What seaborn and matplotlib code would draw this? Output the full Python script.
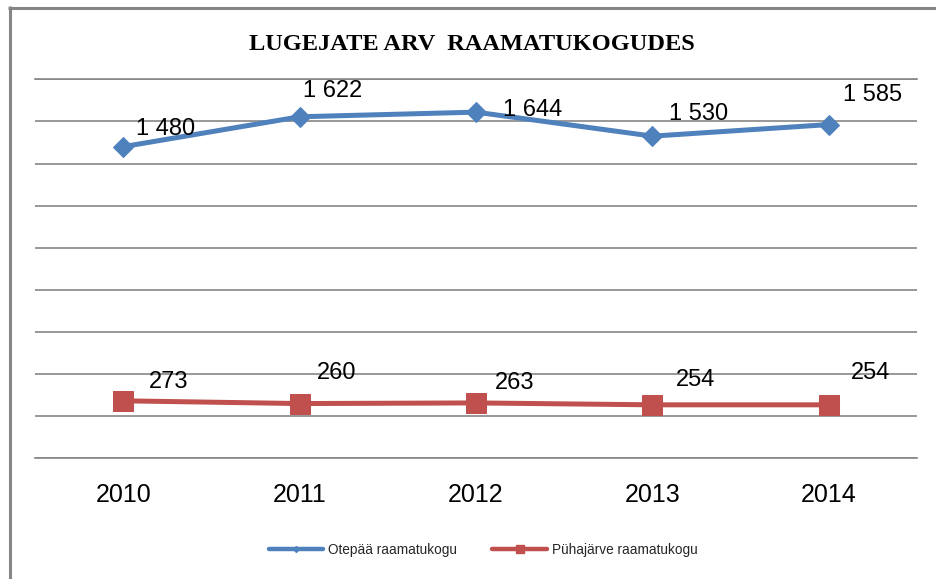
import matplotlib
matplotlib.use("Agg")
import matplotlib.pyplot as plt
import seaborn as sns
import pandas as pd
from matplotlib.lines import Line2D

# ---- data ----
years = [2010, 2011, 2012, 2013, 2014]
otepaa = [1480, 1622, 1644, 1530, 1585]
puhajarve = [273, 260, 263, 254, 254]
series_names = ["Otepää raamatukogu", "Pühajärve raamatukogu"]
title = "LUGEJATE ARV  RAAMATUKOGUDES"

# label offsets (pixels, x right / y up)
off_otepaa = [(42, 18), (33, 26), (57, 2), (46, 22), (44, 30)]
off_puha = [(45, 19), (37, 31), (39, 20), (43, 25), (42, 32)]

sns.set_theme(style="white")
plt.rcParams["font.family"] = ["Liberation Sans", "DejaVu Sans"]

BLUE = "#4F81BD"
RED = "#C0504D"
GRID = "#868686"

fig = plt.figure(figsize=(9.36, 5.79), dpi=100)
W, H = 936, 579
left, right = 35 / W, 917 / W
bottom, top = 1 - 458.3 / H, 1 - 79.3 / H
ax = fig.add_axes([left, bottom, right - left, top - bottom])

df1 = pd.DataFrame({"year": years, "value": otepaa})
df2 = pd.DataFrame({"year": years, "value": puhajarve})

sns.lineplot(data=df1, x="year", y="value", ax=ax, color=BLUE, marker="D",
             markersize=10, markeredgecolor=BLUE, linewidth=3.6,
             label=series_names[0], zorder=3)
sns.lineplot(data=df2, x="year", y="value", ax=ax, color=RED, marker="s",
             markersize=15, markeredgecolor=RED, linewidth=3.6,
             label=series_names[1], zorder=3)

ax.set_xlim(years[0] - 0.5, years[-1] + 0.5)
ax.set_ylim(0, 1800)
ax.set_yticks(range(0, 1801, 200))
ax.set_yticklabels([])
ax.set_xticks(years)
ax.set_xticklabels([str(y) for y in years], fontsize=18)
ax.tick_params(axis="x", length=0, pad=18, colors="black")
ax.tick_params(axis="y", length=0)
ax.set_xlabel("")
ax.set_ylabel("")
ax.yaxis.grid(True, color=GRID, linewidth=1.2)
ax.xaxis.grid(False)
for s in ["left", "right"]:
    ax.spines[s].set_visible(False)
for s in ["top", "bottom"]:
    ax.spines[s].set_visible(True)
    ax.spines[s].set_color(GRID)
    ax.spines[s].set_linewidth(1.2)

def fmt(v):
    return f"{v:,}".replace(",", " ")

for x, v, o in zip(years, otepaa, off_otepaa):
    ax.annotate(fmt(v), (x, v), xytext=o, textcoords="offset pixels",
                ha="center", va="center", fontsize=17, color="black")
for x, v, o in zip(years, puhajarve, off_puha):
    ax.annotate(fmt(v), (x, v), xytext=o, textcoords="offset pixels",
                ha="center", va="center", fontsize=17, color="black")

# legend
handles, labels = ax.get_legend_handles_labels()
ax.get_legend().remove()
hs = [Line2D([], [], color=BLUE, lw=3.2, marker="D", markersize=3, markeredgecolor=BLUE),
      Line2D([], [], color=RED, lw=3.2, marker="s", markersize=6, markeredgecolor=RED)]
fig.legend(hs, labels, loc="center", bbox_to_anchor=(483 / W, 1 - 550 / H),
           ncol=2, frameon=False, fontsize=9.8, handlelength=4.0,
           columnspacing=2.6, handletextpad=0.35)

# title
fig.text(472 / W, 1 - 45 / H, title, ha="center", va="center",
         family=["Liberation Serif", "DejaVu Serif"], fontweight="bold",
         fontsize=17.6, color="black")

# chart frame (top and left edges)
fig.add_artist(Line2D([8.4 / W, 1], [1 - 7.5 / H, 1 - 7.5 / H], transform=fig.transFigure,
                      color=GRID, linewidth=2.2, solid_capstyle="butt"))
fig.add_artist(Line2D([9.5 / W, 9.5 / W], [0, 1 - 6.4 / H], transform=fig.transFigure,
                      color=GRID, linewidth=2.2, solid_capstyle="butt"))

fig.savefig("out.png", dpi=100)
